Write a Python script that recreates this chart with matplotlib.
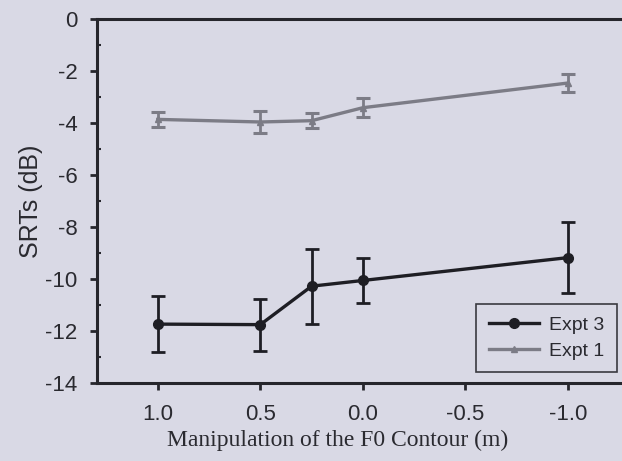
import matplotlib
matplotlib.use("Agg")
import matplotlib.pyplot as plt
from matplotlib.lines import Line2D
import numpy as np

# data
manip = [1.0, 0.5, 0.25, 0.0, -1.0]
expt3_srt = [-11.73, -11.75, -10.27, -10.05, -9.17]
expt3_err = [1.08, 1.0, 1.45, 0.88, 1.37]
expt1_srt = [-3.85, -3.95, -3.9, -3.4, -2.45]
expt1_err = [0.3, 0.42, 0.3, 0.37, 0.36]

x_ticks = [1.0, 0.5, 0.0, -0.5, -1.0]
x_ticklabels = ["1.0", "0.5", "0.0", "-0.5", "-1.0"]
y_ticks = [0, -2, -4, -6, -8, -10, -12, -14]

bg = "#d9d9e5"
c_axis = "#26262c"
c_text = "#2a2a30"
c_expt3 = "#1e1e24"
c_expt1 = "#7c7c86"

plt.rcParams["font.family"] = ["Liberation Sans", "DejaVu Sans"]
plt.rcParams["axes.unicode_minus"] = False

fig = plt.figure(figsize=(6.22, 4.61), dpi=100, facecolor=bg)
ax = fig.add_axes([0.156, 0.169, 0.844, 0.789], facecolor=bg)

# Expt 3 (black, circles)
ax.errorbar(manip, expt3_srt, yerr=expt3_err, color=c_expt3, marker="o",
            markersize=7, linewidth=2.4, elinewidth=2, capsize=5, capthick=2,
            zorder=3)
# Expt 1 (grey, triangles)
ax.errorbar(manip, expt1_srt, yerr=expt1_err, color=c_expt1, marker="^",
            markersize=5, linewidth=2.4, elinewidth=2, capsize=5, capthick=2.2,
            zorder=3)

ax.set_xlim(1.296, -1.263)
ax.set_ylim(-14, 0)
ax.set_xticks(x_ticks)
ax.set_xticklabels(x_ticklabels)
ax.set_yticks(y_ticks)
ax.set_yticks(np.arange(-13, 0, 2), minor=True)

for side in ["left", "bottom", "top"]:
    ax.spines[side].set_color(c_axis)
    ax.spines[side].set_linewidth(2.2)
ax.spines["right"].set_visible(False)

ax.tick_params(axis="both", which="major", direction="out", length=5, width=2,
               color=c_axis, labelsize=16, labelcolor=c_text)
ax.tick_params(axis="y", which="major", pad=9)
ax.tick_params(axis="x", which="major", pad=10)
ax.tick_params(axis="y", which="minor", direction="in", length=3, width=1.5,
               color=c_axis)

ax.set_ylabel("SRTs (dB)", fontsize=18, color=c_text, labelpad=2)
ax.set_xlabel("Manipulation of the F0 Contour (m)", fontsize=17,
              family=["Liberation Serif", "DejaVu Serif"], color=c_text)
ax.xaxis.set_label_coords(0.459, -0.128)

handles = [
    Line2D([], [], color=c_expt3, marker="o", markersize=7, linewidth=2.4),
    Line2D([], [], color=c_expt1, marker="^", markersize=5, linewidth=2.4),
]
leg = ax.legend(handles, ["Expt 3", "Expt 1"], loc="lower right",
                bbox_to_anchor=(0.99, 0.03), fontsize=14,
                frameon=True, fancybox=False, handlelength=2.6,
                borderpad=0.65, labelspacing=0.4, handletextpad=0.5,
                borderaxespad=0)
for t in leg.get_texts():
    t.set_color(c_text)
leg.get_frame().set_facecolor(bg)
leg.get_frame().set_edgecolor("#3a3a40")
leg.get_frame().set_linewidth(1.2)
leg.get_frame().set_alpha(1)

fig.savefig("out.png", dpi=100, facecolor=bg)
